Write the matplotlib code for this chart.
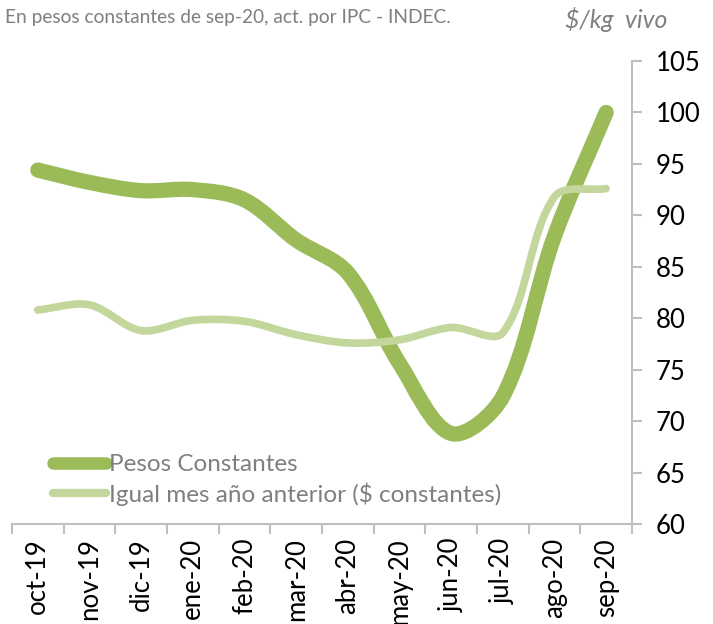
import numpy as np
import matplotlib
matplotlib.use("Agg")
import matplotlib.pyplot as plt
from matplotlib.path import Path
from matplotlib.patches import PathPatch
from matplotlib.lines import Line2D

months = ["oct-19", "nov-19", "dic-19", "ene-20", "feb-20", "mar-20",
          "abr-20", "may-20", "jun-20", "jul-20", "ago-20", "sep-20"]
pesos_constantes = [94.4, 93.2, 92.4, 92.5, 91.5, 87.6, 84.4, 75.6, 68.8, 72.4, 88.0, 100.0]
igual_mes_anterior = [80.8, 81.3, 78.8, 79.8, 79.7, 78.4, 77.6, 77.9, 79.1, 78.6, 91.8, 92.6]
yticks = [60, 65, 70, 75, 80, 85, 90, 95, 100, 105]

DARK = "#9BBB59"
LIGHT = "#C3D69B"
GRAY_TXT = "#7F7F7F"
AX_GRAY = "#BFBFBF"

plt.rcParams['font.family'] = ['Lato', 'DejaVu Sans']

fig = plt.figure(figsize=(7.13, 6.24), dpi=100)
ax = fig.add_axes([12/713, 1-524/624, (632-12)/713, (524-61)/624])
ax.set_xlim(-0.5, len(months)-0.5)
ax.set_ylim(60, 105)


def smooth_path(xs, ys, t=1/3):
    pts = ax.transData.transform(np.column_stack([xs, ys]))
    n = len(pts)
    verts = [pts[0]]
    codes = [Path.MOVETO]
    def ctrl(i):
        p0 = pts[max(i-1, 0)]
        p1 = pts[i]
        p2 = pts[min(i+1, n-1)]
        d01 = np.hypot(*(p1-p0))
        d12 = np.hypot(*(p2-p1))
        s = d01 + d12
        if s == 0:
            return p1, p1
        fa = t*d01/s
        fb = t*d12/s
        return p1 - fa*(p2-p0), p1 + fb*(p2-p0)
    for i in range(n-1):
        _, c1 = ctrl(i)
        c2, _ = ctrl(i+1)
        verts += [c1, c2, pts[i+1]]
        codes += [Path.CURVE4]*3
    verts = ax.transData.inverted().transform(np.array(verts))
    return Path(verts, codes)

x = np.arange(len(months))
p1 = PathPatch(smooth_path(x, pesos_constantes), fill=False, edgecolor=DARK,
               lw=11, capstyle='round', joinstyle='round', zorder=2)
p2 = PathPatch(smooth_path(x, igual_mes_anterior), fill=False, edgecolor=LIGHT,
               lw=5.5, capstyle='round', joinstyle='round', zorder=3)
ax.add_patch(p1)
ax.add_patch(p2)

# axes styling
for s in ["left", "top"]:
    ax.spines[s].set_visible(False)
for s in ["right", "bottom"]:
    ax.spines[s].set_color(AX_GRAY)
    ax.spines[s].set_linewidth(1.5)
ax.yaxis.tick_right()
ax.set_yticks(yticks)
ax.set_yticklabels([str(v) for v in yticks])
ax.tick_params(axis='y', direction='out', length=7, width=1.5, color=AX_GRAY,
               labelsize=18.5, labelcolor="black", pad=10)
ax.set_xticks(x)
ax.set_xticklabels(months, rotation=90, fontsize=18.5, color="black")
ax.tick_params(axis='x', which='major', length=0, pad=10)
ax.set_xticks(np.arange(-0.5, len(months)), minor=True)
ax.tick_params(axis='x', which='minor', direction='out', length=7, width=1.5, color=AX_GRAY)

# legend
handles = [Line2D([], [], color=DARK, lw=9, solid_capstyle='round'),
           Line2D([], [], color=LIGHT, lw=6, solid_capstyle='round')]
leg = ax.legend(handles, ["Pesos Constantes", "Igual mes año anterior ($ constantes)"],
                loc="lower left", bbox_to_anchor=(0.05, 0.0185), frameon=False,
                fontsize=17.5, handlelength=2.2, handletextpad=0.12, labelspacing=0.28,
                borderaxespad=0)
for t in leg.get_texts():
    t.set_color(GRAY_TXT)

fig.text(5/713, 1-18/624, "En pesos constantes de sep-20, act. por IPC - INDEC.",
         fontsize=13.8, color=GRAY_TXT, va="center", ha="left")
fig.text(565/713, 1-20/624, "$/kg  vivo", fontsize=17.8, color=GRAY_TXT,
         style="italic", va="center", ha="left")

fig.savefig("out.png", dpi=100)
